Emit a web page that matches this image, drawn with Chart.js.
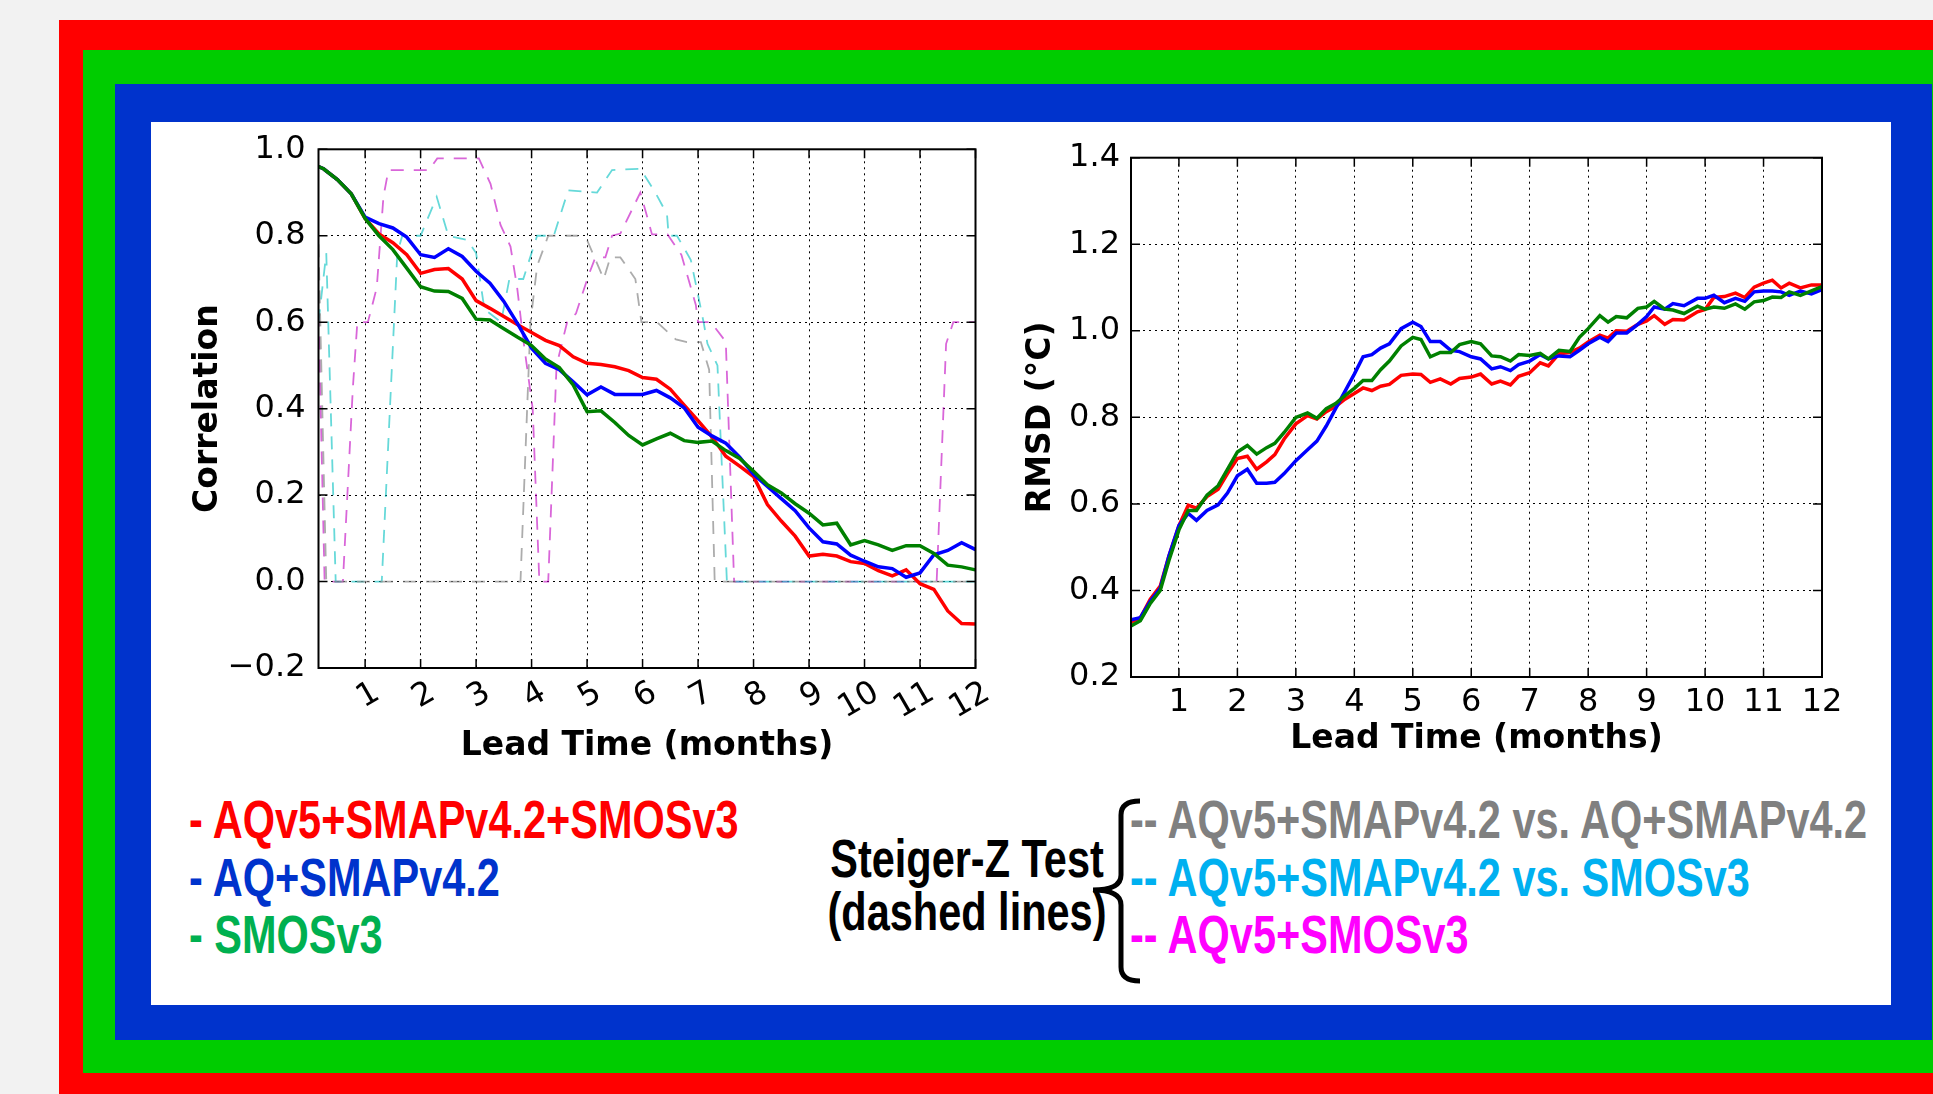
<!DOCTYPE html>
<html><head><meta charset="utf-8">
<script src="https://cdn.jsdelivr.net/npm/chart.js@4.4.1/dist/chart.umd.min.js"></script>
<style>
html,body{margin:0;padding:0;width:1933px;height:1094px;overflow:hidden;background:#f2f2f2;}
.fr{position:absolute;}
canvas{position:absolute;}
.lg{position:absolute;font-family:"Liberation Sans",Arial,sans-serif;font-weight:bold;font-size:41px;line-height:41px;white-space:nowrap;transform:scale(1.012,1.3);transform-origin:0 20px;}
.lc{transform-origin:50% 20px;text-align:center;}
</style></head>
<body>
<div class="fr" style="left:59px;top:20px;width:1874px;height:1074px;background:#ff0000"></div>
<div class="fr" style="left:83px;top:50px;width:1850px;height:1023px;background:#00cc00"></div>
<div class="fr" style="left:115px;top:84px;width:1817px;height:956px;background:#0033cc"></div>
<div class="fr" style="left:151px;top:122px;width:1740px;height:883px;background:#ffffff"></div>
<canvas id="cL" width="820" height="660" style="left:180px;top:130px"></canvas>
<canvas id="cR" width="850" height="650" style="left:1020px;top:130px"></canvas>

<div class="lg" style="left:189px;top:800px;color:#ff0000">- AQv5+SMAPv4.2+SMOSv3</div>
<div class="lg" style="left:189px;top:858px;color:#0033cc">- AQ+SMAPv4.2</div>
<div class="lg" style="left:189px;top:915px;color:#00b050">- SMOSv3</div>
<div class="lg lc" style="left:817px;width:300px;top:839px;color:#000">Steiger-Z Test</div>
<div class="lg lc" style="left:817px;width:300px;top:892px;color:#000">(dashed lines)</div>
<div class="lg" style="left:1130px;top:800px;color:#808080">-- AQv5+SMAPv4.2 vs. AQ+SMAPv4.2</div>
<div class="lg" style="left:1130px;top:858px;color:#00b0f0">-- AQv5+SMAPv4.2 vs. SMOSv3</div>
<div class="lg" style="left:1130px;top:915px;color:#ff00ff">-- AQv5+SMOSv3</div>
<svg style="position:absolute;left:1085px;top:795px" width="60" height="195">
<path d="M55 6 Q36 6 36 20 L36 80 Q36 95 8 95 Q36 95 36 110 L36 172 Q36 186 55 186" fill="none" stroke="#000" stroke-width="5"/>
</svg>

<script>
// ---- data ----
const monthTicks = [1,2,3,4,5,6,7,8,9,10,11,12];
const corrTicks = [-0.2,0,0.2,0.4,0.6,0.8,1.0];
const rmsdTicks = [0.2,0.4,0.6,0.8,1.0,1.2,1.4];

const leadL = [0.16,0.25,0.5,0.75,1,1.25,1.5,1.75,2,2.25,2.5,2.75,3,3.25,3.5,3.75,4,4.25,4.5,4.75,5,5.25,5.5,5.75,6,6.25,6.5,6.75,7,7.25,7.5,7.75,8,8.25,8.5,8.75,9,9.25,9.5,9.75,10,10.25,10.5,10.75,11,11.25,11.5,11.75,12];
const corrRed = [0.960,0.955,0.930,0.897,0.840,0.804,0.784,0.756,0.713,0.722,0.724,0.700,0.650,0.632,0.613,0.594,0.576,0.558,0.546,0.520,0.505,0.502,0.497,0.488,0.472,0.468,0.445,0.408,0.372,0.335,0.290,0.267,0.243,0.178,0.140,0.105,0.059,0.063,0.059,0.046,0.042,0.025,0.013,0.027,-0.005,-0.018,-0.068,-0.097,-0.098];
const corrBlue = [0.960,0.955,0.930,0.897,0.843,0.828,0.818,0.797,0.756,0.750,0.770,0.752,0.718,0.690,0.648,0.596,0.540,0.505,0.490,0.462,0.432,0.450,0.433,0.433,0.433,0.442,0.425,0.402,0.357,0.337,0.320,0.288,0.248,0.220,0.192,0.164,0.124,0.092,0.087,0.061,0.047,0.034,0.030,0.010,0.020,0.062,0.072,0.090,0.074];
const corrGreen = [0.960,0.955,0.930,0.897,0.840,0.800,0.768,0.725,0.682,0.672,0.671,0.655,0.607,0.605,0.585,0.565,0.546,0.515,0.495,0.455,0.393,0.395,0.368,0.338,0.316,0.330,0.343,0.326,0.322,0.325,0.303,0.285,0.255,0.224,0.205,0.180,0.158,0.131,0.135,0.085,0.095,0.085,0.072,0.083,0.083,0.065,0.038,0.034,0.027];

const grayX = [0.16,0.3,3.8,3.98,4.1,4.3,4.82,5.0,5.3,5.42,5.6,5.87,5.98,6.26,6.6,6.8,7.05,7.2,7.3,12.0];
const grayY = [0.78,0.0,0.0,0.6,0.73,0.8,0.8,0.79,0.70,0.75,0.75,0.70,0.60,0.60,0.56,0.554,0.554,0.49,0.0,0.0];
const cyanX = [0.16,0.3,0.47,1.3,1.58,1.67,2.0,2.29,2.5,2.84,3.0,3.15,3.45,3.6,3.85,4.1,4.4,4.66,5.18,5.45,5.96,6.23,6.44,6.47,6.62,6.87,7.1,7.17,7.35,7.52,12.0];
const cyanY = [0.6,0.76,0.0,0.0,0.76,0.8,0.8,0.89,0.8,0.79,0.76,0.63,0.6,0.7,0.7,0.8,0.8,0.905,0.9,0.952,0.955,0.9,0.85,0.80,0.80,0.744,0.6,0.55,0.5,0.0,0.0];
const magX = [0.16,0.27,0.6,0.78,0.86,1.05,1.21,1.33,1.42,2.15,2.3,3.05,3.26,3.44,3.62,3.74,3.85,4.02,4.14,4.3,4.45,4.64,4.8,5.03,5.15,5.33,5.45,5.6,5.96,6.1,6.17,6.45,6.7,6.96,7.0,7.23,7.5,7.65,11.3,11.47,11.6,12.0];
const magY = [0.62,0.0,0.0,0.45,0.6,0.6,0.68,0.89,0.952,0.952,0.979,0.979,0.92,0.825,0.775,0.68,0.56,0.4,0.0,0.0,0.5,0.6,0.62,0.71,0.75,0.75,0.8,0.805,0.90,0.836,0.803,0.803,0.756,0.64,0.60,0.60,0.555,0.0,0.0,0.55,0.6,0.6];

const leadR = [0.18,0.34,0.51,0.68,0.83,1.0,1.16,1.3,1.48,1.67,1.83,2.0,2.17,2.33,2.5,2.64,2.8,3.0,3.2,3.36,3.52,3.68,3.84,4.0,4.15,4.3,4.45,4.6,4.8,5.0,5.14,5.3,5.47,5.65,5.8,6.0,6.16,6.35,6.5,6.67,6.81,7.0,7.18,7.32,7.5,7.69,7.85,8.0,8.2,8.34,8.48,8.66,8.85,9.0,9.13,9.31,9.45,9.64,9.87,10.0,10.15,10.33,10.52,10.68,10.84,11.0,11.15,11.3,11.44,11.63,11.82,12.0];
const rmsdRed = [0.327,0.337,0.380,0.410,0.480,0.550,0.597,0.590,0.617,0.634,0.670,0.705,0.710,0.680,0.697,0.714,0.750,0.785,0.804,0.796,0.813,0.825,0.842,0.855,0.868,0.862,0.872,0.876,0.897,0.900,0.899,0.881,0.889,0.877,0.890,0.893,0.900,0.877,0.884,0.875,0.895,0.903,0.926,0.919,0.947,0.950,0.960,0.974,0.990,0.983,1.000,0.999,1.015,1.023,1.035,1.015,1.026,1.025,1.044,1.049,1.077,1.079,1.087,1.077,1.101,1.110,1.117,1.099,1.110,1.099,1.106,1.106];
const rmsdBlue = [0.332,0.337,0.375,0.405,0.480,0.550,0.578,0.562,0.585,0.598,0.625,0.665,0.680,0.648,0.648,0.650,0.670,0.700,0.725,0.745,0.780,0.820,0.860,0.900,0.940,0.945,0.960,0.970,1.005,1.020,1.010,0.975,0.975,0.955,0.952,0.940,0.935,0.912,0.917,0.908,0.922,0.930,0.945,0.935,0.942,0.940,0.955,0.970,0.985,0.975,0.995,0.995,1.015,1.033,1.055,1.050,1.063,1.058,1.075,1.075,1.082,1.065,1.075,1.068,1.090,1.092,1.092,1.090,1.082,1.092,1.085,1.095];
const rmsdGreen = [0.318,0.330,0.370,0.400,0.470,0.540,0.585,0.585,0.620,0.642,0.680,0.720,0.735,0.715,0.730,0.740,0.765,0.800,0.810,0.798,0.820,0.832,0.850,0.867,0.885,0.885,0.910,0.930,0.965,0.985,0.980,0.940,0.950,0.950,0.968,0.975,0.970,0.942,0.940,0.930,0.945,0.943,0.948,0.935,0.955,0.952,0.985,1.005,1.035,1.020,1.033,1.030,1.052,1.055,1.068,1.050,1.048,1.040,1.057,1.050,1.055,1.052,1.062,1.050,1.067,1.070,1.078,1.077,1.090,1.082,1.092,1.102];

// ---- helpers ----
const pts = (xs, ys) => xs.map((x, i) => ({x: x, y: ys[i]}));
const fmt = v => (v < 0 ? '\u2212' : '') + Math.abs(v).toFixed(1);
const tickFont = {family: 'DejaVu Sans', size: 32};
const titleFont = {family: 'DejaVu Sans', size: 33, weight: 'bold'};

const frameTicks = {
  id: 'frameTicks',
  afterDatasetsDraw(chart) {
    const {ctx, chartArea: a, scales: {x, y}} = chart;
    ctx.save();
    ctx.strokeStyle = '#000';
    ctx.lineWidth = 1.5;
    const L = 9;
    ctx.beginPath();
    x.ticks.forEach(t => {
      const px = x.getPixelForValue(t.value);
      ctx.moveTo(px, a.bottom); ctx.lineTo(px, a.bottom - L);
      ctx.moveTo(px, a.top); ctx.lineTo(px, a.top + L);
    });
    y.ticks.forEach(t => {
      const py = y.getPixelForValue(t.value);
      ctx.moveTo(a.left, py); ctx.lineTo(a.left + L, py);
      ctx.moveTo(a.right, py); ctx.lineTo(a.right - L, py);
    });
    ctx.stroke();
    ctx.lineWidth = 2;
    ctx.strokeRect(a.left, a.top, a.right - a.left, a.bottom - a.top);
    ctx.restore();
  }
};

function solid(label, color, data) {
  return {label, data, borderColor: color, borderWidth: 3.5, pointRadius: 0, tension: 0, fill: false};
}
function dashed(label, color, data) {
  return {label, data, borderColor: color, borderWidth: 1.8, borderDash: [13, 10], pointRadius: 0, tension: 0, fill: false};
}

function makeOptions(cfg) {
  return {
    responsive: false,
    animation: false,
    layout: {padding: {top: cfg.padTop, right: cfg.padRight, left: 0, bottom: 0}},
    plugins: {legend: {display: false}, tooltip: {enabled: false}},
    scales: {
      x: {
        type: 'linear', min: cfg.xmin, max: 12,
        afterBuildTicks: s => { s.ticks = monthTicks.map(v => ({value: v})); },
        afterFit: s => { s.height = cfg.xH; s.paddingLeft = 0; s.paddingRight = 0; },
        grid: {color: '#000', lineWidth: 1, drawTicks: false},
        border: {display: false, dash: [2, 4]},
        ticks: {font: tickFont, color: '#000', padding: cfg.xPad, minRotation: cfg.rot, maxRotation: cfg.rot,
                labelOffset: cfg.labelOffset, autoSkip: false, callback: v => String(v)},
        title: {display: true, text: 'Lead Time (months)', font: titleFont, color: '#000',
                padding: {top: 0, bottom: cfg.xTitlePad}}
      },
      y: {
        type: 'linear', min: cfg.ymin, max: cfg.ymax,
        afterBuildTicks: s => { s.ticks = cfg.yTicks.map(v => ({value: v})); },
        afterFit: s => { s.width = cfg.yW; s.paddingTop = 0; s.paddingBottom = 0; },
        grid: {color: '#000', lineWidth: 1, drawTicks: false},
        border: {display: false, dash: [2, 4]},
        ticks: {font: tickFont, color: '#000', padding: cfg.yPad, callback: v => fmt(v)},
        title: {display: true, text: cfg.yTitle, font: titleFont, color: '#000',
                padding: {top: cfg.yTitlePad, bottom: 0}}
      }
    }
  };
}

new Chart(document.getElementById('cL'), {
  type: 'line',
  data: {datasets: [
    solid('SMOSv3', '#008000', pts(leadL, corrGreen)),
    solid('AQ+SMAPv4.2', '#0000ff', pts(leadL, corrBlue)),
    solid('AQv5+SMAPv4.2+SMOSv3', '#ff0000', pts(leadL, corrRed)),
    dashed('AQv5+SMAPv4.2 vs. AQ+SMAPv4.2', 'rgba(128,128,128,0.65)', pts(grayX, grayY)),
    dashed('AQv5+SMAPv4.2 vs. SMOSv3', 'rgba(0,191,191,0.6)', pts(cyanX, cyanY)),
    dashed('AQv5+SMOSv3', 'rgba(191,0,191,0.6)', pts(magX, magY))
  ]},
  options: makeOptions({padTop: 19.3, padRight: 24.5, xmin: 0.16, xH: 122, xPad: 6, rot: 30, labelOffset: 12,
    xTitlePad: 24, ymin: -0.2, ymax: 1.0, yTicks: corrTicks, yW: 138.5, yPad: 13, yTitle: 'Correlation', yTitlePad: 9}),
  plugins: [frameTicks]
});

new Chart(document.getElementById('cR'), {
  type: 'line',
  data: {datasets: [
    solid('SMOSv3', '#008000', pts(leadR, rmsdGreen)),
    solid('AQ+SMAPv4.2', '#0000ff', pts(leadR, rmsdBlue)),
    solid('AQv5+SMAPv4.2+SMOSv3', '#ff0000', pts(leadR, rmsdRed))
  ]},
  options: makeOptions({padTop: 27.7, padRight: 48, xmin: 0.18, xH: 103, xPad: 6, rot: 0, labelOffset: 0,
    xTitlePad: 21, ymin: 0.2, ymax: 1.4, yTicks: rmsdTicks, yW: 111, yPad: 11, yTitle: 'RMSD (\u00B0C)', yTitlePad: 2}),
  plugins: [frameTicks]
});
</script>
</body></html>
